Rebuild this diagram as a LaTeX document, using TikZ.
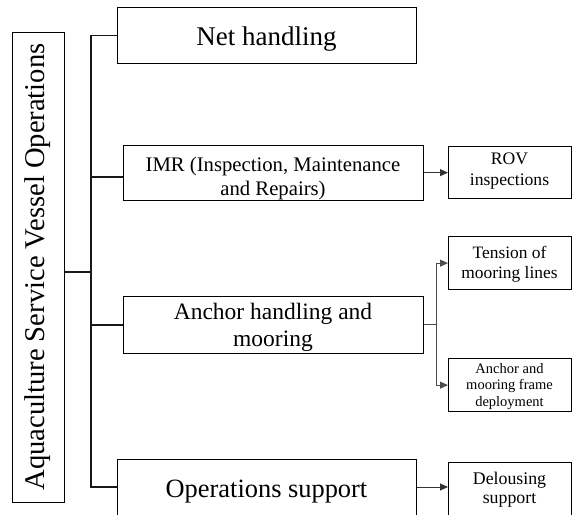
\documentclass[tikz,border=0pt]{standalone}
\usepackage{fontspec}
\setmainfont{Liberation Serif}
\usetikzlibrary{arrows.meta}
\newcommand\txtsize[2]{\fontsize{#1pt}{#2pt}\selectfont}
\begin{document}
\begin{tikzpicture}[x=1pt,y=-1pt,
  box/.style={draw=black,line width=1.25pt,inner sep=0pt,anchor=north west},
  txt/.style={inner sep=0pt,align=center,text=black},
  conn/.style={draw=black!90,line width=1.1pt},
  arr/.style={draw=black!80,line width=0.9pt,-{Triangle[length=8pt,width=7pt]}}]
\useasboundingbox (0,0) rectangle (572,514);
\clip (0,0) rectangle (572,514);

% root box with rotated title
\node[box,minimum width=52pt,minimum height=470pt] (root) at (12,32) {};
\node[txt,rotate=90,font=\txtsize{28.6}{32}] (root-t) at (38,267) {Aquaculture Service Vessel Operations};

% first-level boxes
\node[box,minimum width=299pt,minimum height=56pt] (net) at (117,7) {};
\node[txt,font=\txtsize{27}{31}] (net-t) at (266.5,39.5) {Net handling};

\node[box,minimum width=300pt,minimum height=55pt] (imr) at (123,145) {};
\node[txt,font=\txtsize{20.7}{23.5}] (imr-t) at (273,178.5) {IMR (Inspection, Maintenance\\and Repairs)};

\node[box,minimum width=300pt,minimum height=57pt] (anc) at (123,296) {};
\node[txt,font=\txtsize{23.5}{27.5}] (anc-t) at (273,327.5) {Anchor handling and\\mooring};

\node[box,minimum width=299pt,minimum height=65pt] (ops) at (117,459) {};
\node[txt,font=\txtsize{26.4}{30}] (ops-t) at (266.5,491.7) {Operations support};

% second-level boxes
\node[box,minimum width=123pt,minimum height=52pt] (rov) at (448,146) {};
\node[txt,font=\txtsize{17.6}{20.7}] (rov-t) at (509.5,171) {ROV\\inspections};

\node[box,minimum width=123pt,minimum height=53pt] (ten) at (448,236) {};
\node[txt,font=\txtsize{17.4}{20}] (ten-t) at (509.5,264.5) {Tension of\\mooring lines};

\node[box,minimum width=123pt,minimum height=53pt] (amf) at (448,358) {};
\node[txt,font=\txtsize{14.5}{16.7}] (amf-t) at (509.5,386.5) {Anchor and\\mooring frame\\deployment};

\node[box,minimum width=123pt,minimum height=54pt] (del) at (448,462) {};
\node[txt,font=\txtsize{17.8}{19}] (del-t) at (509.5,489.5) {Delousing\\support};

% trunk and branches
\coordinate (j) at (91,272);
\coordinate (t2) at (91,177);
\coordinate (t3) at (91,325);
\coordinate (tbot) at (91,487);
\coordinate (b) at (436,324);

\draw[conn] (root.east |- j) -- (j);
\draw[conn] (net.west) -| (tbot) -- (ops.west |- tbot);
\draw[conn] (t2) -- (imr.west |- t2);
\draw[conn] (t3) -- (anc.west |- t3);

\draw[arr] (imr.east |- rov.west) -- (rov.west);
\draw[conn,draw=black!70,line width=0.9pt] (anc.east |- b) -- (b);
\draw[arr,draw=black!70] (b) |- (ten.west);
\draw[arr,draw=black!70] (b) |- (amf.west);
\draw[arr] (ops.east |- tbot) -- (del.west |- tbot);
\end{tikzpicture}
\end{document}
